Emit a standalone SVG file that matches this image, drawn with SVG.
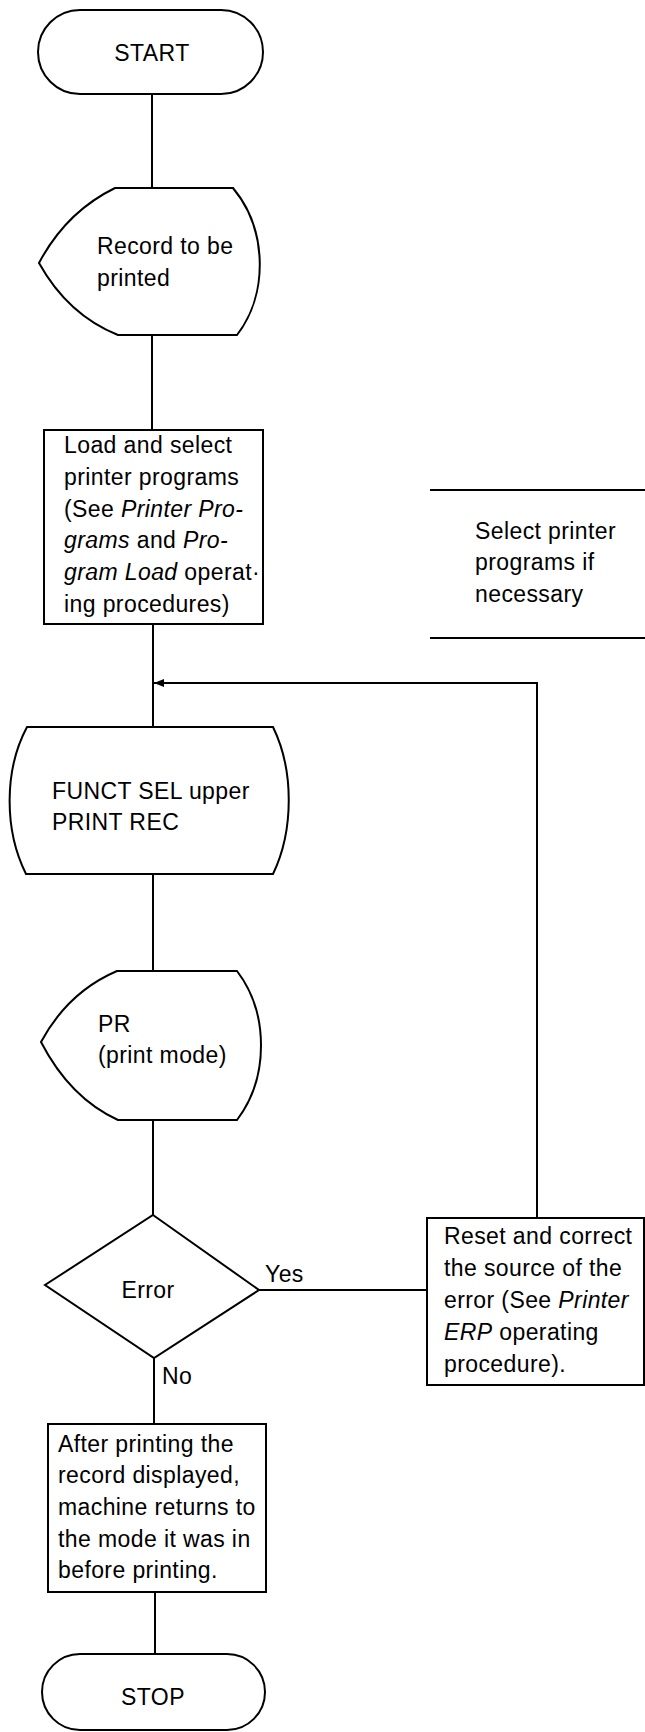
<svg xmlns="http://www.w3.org/2000/svg" width="645" height="1732" viewBox="0 0 645 1732">
<style>
.s{fill:#fff;stroke:#000;stroke-width:2}
.l{fill:none;stroke:#000;stroke-width:2}
text{font-family:"Liberation Sans",Arial,sans-serif;font-size:23px;letter-spacing:0.4px;fill:#000}
.c{text-anchor:middle}
.i{font-style:italic}
</style>
<defs>
<marker id="ah" viewBox="0 0 10 8" refX="10" refY="4" markerWidth="10" markerHeight="8" markerUnits="userSpaceOnUse" orient="auto">
<path d="M0,0 L10,4 L0,8 Z" fill="#000"/>
</marker>
</defs>
<rect width="645" height="1732" fill="#fff"/>
<g id="connectors">
<line class="l" x1="152" y1="94" x2="152" y2="188"/>
<line class="l" x1="152" y1="335" x2="152" y2="430"/>
<line class="l" x1="153" y1="624" x2="153" y2="727"/>
<line class="l" x1="153" y1="874" x2="153" y2="971"/>
<line class="l" x1="153" y1="1120" x2="153" y2="1215"/>
<line class="l" x1="154" y1="1358" x2="154" y2="1424"/>
<line class="l" x1="155" y1="1592" x2="155" y2="1654"/>
<line class="l" x1="259" y1="1290" x2="427" y2="1290"/>
<polyline class="l" points="537,1218 537,683 154,683" marker-end="url(#ah)"/>
<text x="265" y="1282">Yes</text>
<text x="162" y="1384">No</text>
</g>
<g id="start">
<rect class="s" x="38" y="10" width="225" height="84" rx="42"/>
<text class="c" x="152" y="61">START</text>
</g>
<g id="record">
<path class="s" d="M115,188 L233,188 C268,230 268,295 237,335 L118,335 Q68,315 39,263 Q66,212 115,188 Z"/>
<text x="97" y="254">Record to be</text>
<text x="97" y="286">printed</text>
</g>
<g id="load">
<rect class="s" x="44" y="430" width="219" height="194"/>
<text x="64" y="453">Load and select</text>
<text x="64" y="485">printer programs</text>
<text x="64" y="517">(See <tspan class="i">Printer Pro-</tspan></text>
<text x="64" y="548"><tspan class="i">grams</tspan> and <tspan class="i">Pro-</tspan></text>
<text x="64" y="580"><tspan class="i">gram Load</tspan> operat·</text>
<text x="64" y="612">ing procedures)</text>
</g>
<g id="note">
<line class="l" x1="430" y1="490" x2="645" y2="490"/>
<line class="l" x1="430" y1="638" x2="645" y2="638"/>
<text x="475" y="539">Select printer</text>
<text x="475" y="570">programs if</text>
<text x="475" y="602">necessary</text>
</g>
<g id="funct">
<path class="s" d="M27,727 L273,727 C294,770 294,830 273,874 L26,874 C4,830 4,770 27,727 Z"/>
<text x="52" y="799">FUNCT SEL upper</text>
<text x="52" y="830">PRINT REC</text>
</g>
<g id="pr">
<path class="s" d="M117,971 L237,971 C269,1013 269,1078 237,1120 L118,1120 Q70,1098 41,1042 Q68,992 117,971 Z"/>
<text x="98" y="1032">PR</text>
<text x="98" y="1063">(print mode)</text>
</g>
<g id="error">
<path class="s" d="M153,1215 L259,1290 L154,1358 L45,1285 Z"/>
<text class="c" x="148" y="1298">Error</text>
</g>
<g id="reset">
<rect class="s" x="427" y="1218" width="217" height="167"/>
<text x="444" y="1244">Reset and correct</text>
<text x="444" y="1276">the source of the</text>
<text x="444" y="1308">error (See <tspan class="i">Printer</tspan></text>
<text x="444" y="1340"><tspan class="i">ERP</tspan> operating</text>
<text x="444" y="1372">procedure).</text>
</g>
<g id="after">
<rect class="s" x="48" y="1424" width="218" height="168"/>
<text x="58" y="1452">After printing the</text>
<text x="58" y="1483">record displayed,</text>
<text x="58" y="1515">machine returns to</text>
<text x="58" y="1547">the mode it was in</text>
<text x="58" y="1578">before printing.</text>
</g>
<g id="stop">
<rect class="s" x="42" y="1654" width="223" height="76" rx="38"/>
<text class="c" x="153" y="1705">STOP</text>
</g>
</svg>
